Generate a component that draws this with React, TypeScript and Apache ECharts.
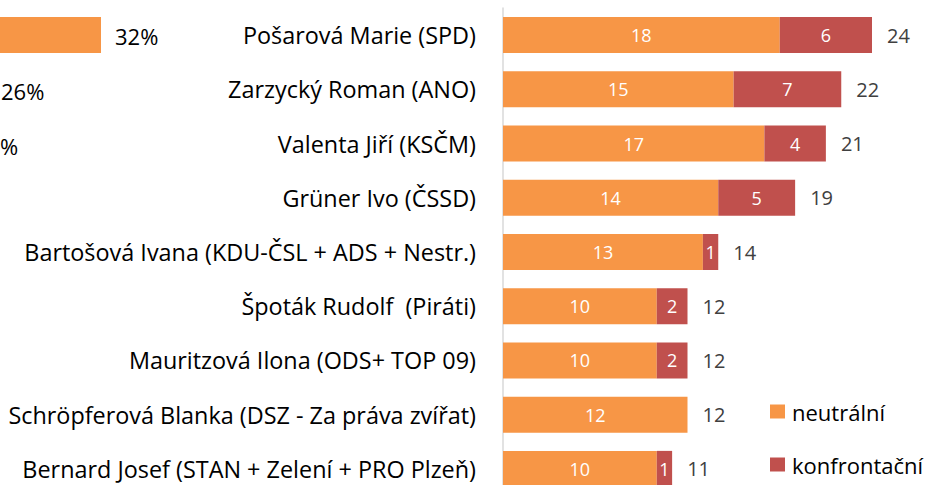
import React, { useEffect, useRef } from "react";
import * as echarts from "echarts";

const categories = [
  "Pošarová Marie (SPD)",
  "Zarzycký Roman (ANO)",
  "Valenta Jiří (KSČM)",
  "Grüner Ivo (ČSSD)",
  "Bartošová Ivana (KDU-ČSL + ADS + Nestr.)",
  "Špoták Rudolf  (Piráti)",
  "Mauritzová Ilona (ODS+ TOP 09)",
  "Schröpferová Blanka (DSZ - Za práva zvířat)",
  "Bernard Josef (STAN + Zelení + PRO Plzeň)",
];
const neutralni = [18, 15, 17, 14, 13, 10, 10, 12, 10];
const konfrontacni = [6, 7, 4, 5, 1, 2, 2, 0, 1];
const totals = [24, 22, 21, 19, 14, 12, 12, 12, 11];

const seriesNames = ["neutrální", "konfrontační"];
const leftFragmentLabels = ["32%", "26%", "%"];

const FONT = "'Open Sans', sans-serif";

export default function App() {
  const ref = useRef<HTMLDivElement>(null);
  useEffect(() => {
    if (!ref.current) return;
    const chart = echarts.init(ref.current, undefined, { renderer: "svg" });
    chart.setOption({
      animation: false,
      textStyle: { fontFamily: FONT },
      grid: { left: 503, top: 8, width: 430.5, height: 488, containLabel: false, outerBoundsMode: "none" },
      legend: {
        data: seriesNames,
        orient: "vertical",
        left: 770,
        top: 400,
        padding: 0,
        itemWidth: 15,
        itemHeight: 14,
        itemGap: 30,
        icon: "rect",
        textStyle: { fontFamily: FONT, fontSize: 22, lineHeight: 23, color: "#000", padding: [0, 0, 0, 2] },
      },
      xAxis: {
        type: "value",
        min: 0,
        max: 28,
        show: false,
      },
      yAxis: {
        type: "category",
        data: categories,
        inverse: true,
        axisLine: { show: true, lineStyle: { color: "#d9d9d9", width: 1.5 } },
        axisTick: { show: false },
        axisLabel: { fontFamily: FONT, fontSize: 23.4, lineHeight: 22, color: "#000", margin: 27 },
      },
      series: [
        {
          name: seriesNames[0],
          type: "bar",
          stack: "s",
          data: neutralni,
          barWidth: 36,
          itemStyle: { color: "#F79646" },
          label: { show: true, position: "inside", color: "#fff", fontSize: 18, fontFamily: FONT },
        },
        {
          name: seriesNames[1],
          type: "bar",
          stack: "s",
          data: konfrontacni,
          barWidth: 36,
          itemStyle: { color: "#C0504D" },
          label: {
            show: true,
            position: "inside",
            color: "#fff",
            fontSize: 18,
            fontFamily: FONT,
            formatter: (p: any) => (p.value ? String(p.value) : ""),
          },
        },
        {
          name: "total",
          type: "bar",
          data: totals,
          barWidth: 36,
          barGap: "-100%",
          z: 0,
          itemStyle: { color: "rgba(0,0,0,0)" },
          silent: true,
          label: { show: true, position: "right", distance: 15, color: "#404040", fontSize: 20, fontFamily: FONT },
        },
      ],
      graphic: [
        { type: "rect", shape: { x: 0, y: 17, width: 101, height: 36 }, style: { fill: "#F79646" } },
        { type: "text", x: 115, y: 36, style: { text: leftFragmentLabels[0], fontSize: 22, fontFamily: FONT, fill: "#000", verticalAlign: "middle" } },
        { type: "text", x: 1, y: 91, style: { text: leftFragmentLabels[1], fontSize: 22, fontFamily: FONT, fill: "#000", verticalAlign: "middle" } },
        { type: "text", x: 0, y: 146, style: { text: leftFragmentLabels[2], fontSize: 22, fontFamily: FONT, fill: "#000", verticalAlign: "middle" } },
      ],
    });
    return () => chart.dispose();
  }, []);
  return <div ref={ref} style={{ position: "absolute", left: 0, top: 0, width: 934, height: 485 }} />;
}
